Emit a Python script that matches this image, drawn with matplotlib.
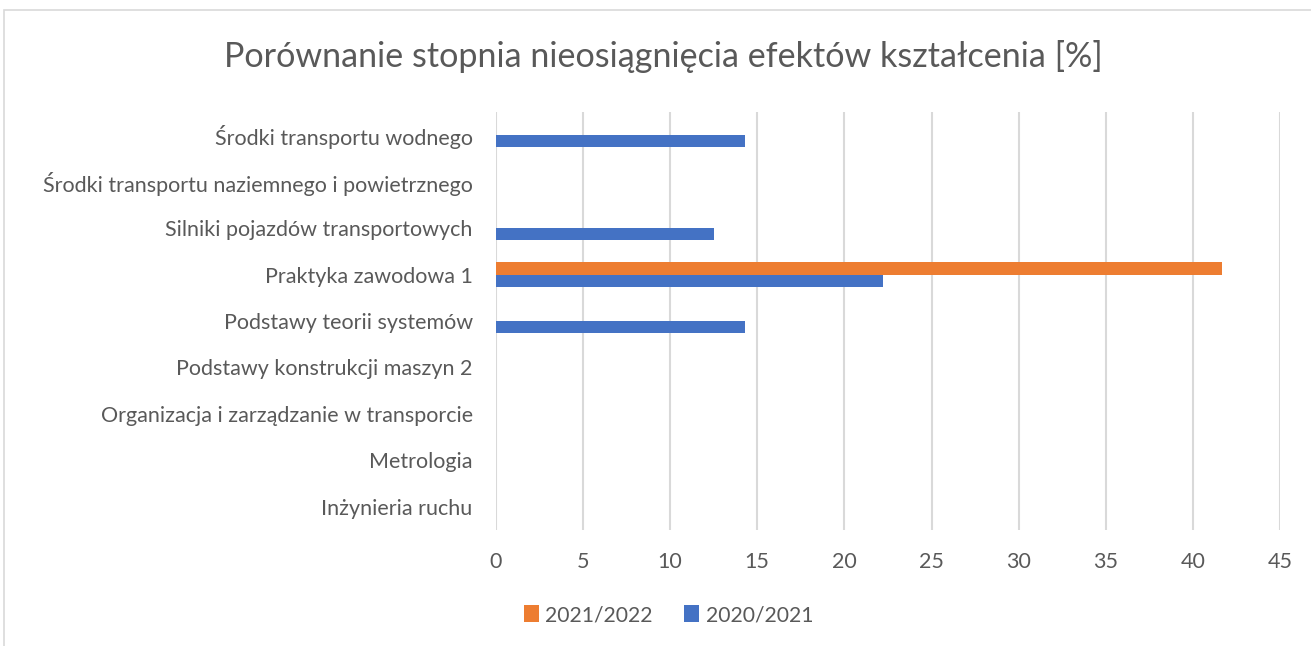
import matplotlib.pyplot as plt
from matplotlib.patches import Rectangle
import numpy as np

# === DATA ===
categories = [
    "Środki transportu wodnego",
    "Środki transportu naziemnego i powietrznego",
    "Silniki pojazdów transportowych",
    "Praktyka zawodowa 1",
    "Podstawy teorii systemów",
    "Podstawy konstrukcji maszyn 2",
    "Organizacja i zarządzanie w transporcie",
    "Metrologia",
    "Inżynieria ruchu",
]
values_2021_2022 = [0, 0, 0, 41.67, 0, 0, 0, 0, 0]
values_2020_2021 = [14.29, 0, 12.5, 22.22, 14.29, 0, 0, 0, 0]
x_ticks = [0, 5, 10, 15, 20, 25, 30, 35, 40, 45]

TEXT = "#595959"
GRID = "#d9d9d9"
ORANGE = "#ed7d31"
BLUE = "#4472c4"
plt.rcParams['font.family'] = ['Lato', 'DejaVu Sans']

fig = plt.figure(figsize=(13.11, 6.46), dpi=100)
ax = fig.add_axes([0.378, 0.1796, 0.5986, 0.647])

# chart frame
fig.patches.append(Rectangle((4 / 1311, -0.1), 1.2, 1.1 - 10 / 646, transform=fig.transFigure,
                             fill=False, edgecolor=GRID, linewidth=1.2))

y = np.arange(len(categories))
h = 0.26
ax.barh(y - h / 2, values_2021_2022, height=h, color=ORANGE, linewidth=0, label="2021/2022", zorder=3)
ax.barh(y + h / 2, values_2020_2021, height=h, color=BLUE, linewidth=0, label="2020/2021", zorder=3)

ax.set_xlim(0, 45)
ax.set_ylim(len(categories) - 0.5, -0.5)
ax.set_xticks(x_ticks)
ax.set_yticks(y)
ax.set_yticklabels(categories)
ax.tick_params(axis="both", length=0, labelsize=15.5, colors=TEXT)
ax.tick_params(axis="y", pad=16.5)
ax.tick_params(axis="x", pad=16)
ax.grid(axis="x", color=GRID, linewidth=1.5, zorder=0)
for s in ax.spines.values():
    s.set_visible(False)

fig.suptitle("Porównanie stopnia nieosiągnięcia efektów kształcenia [%]",
             x=0.506, y=0.913, va="center", fontsize=24.6, color=TEXT)

fig.legend(loc="center", bbox_to_anchor=(0.510, 0.048), ncol=2, frameon=False,
           fontsize=15.2, labelcolor=TEXT, handlelength=0.7, handleheight=0.9,
           handletextpad=0.3, columnspacing=1.5)

fig.savefig("out.png", dpi=100)
